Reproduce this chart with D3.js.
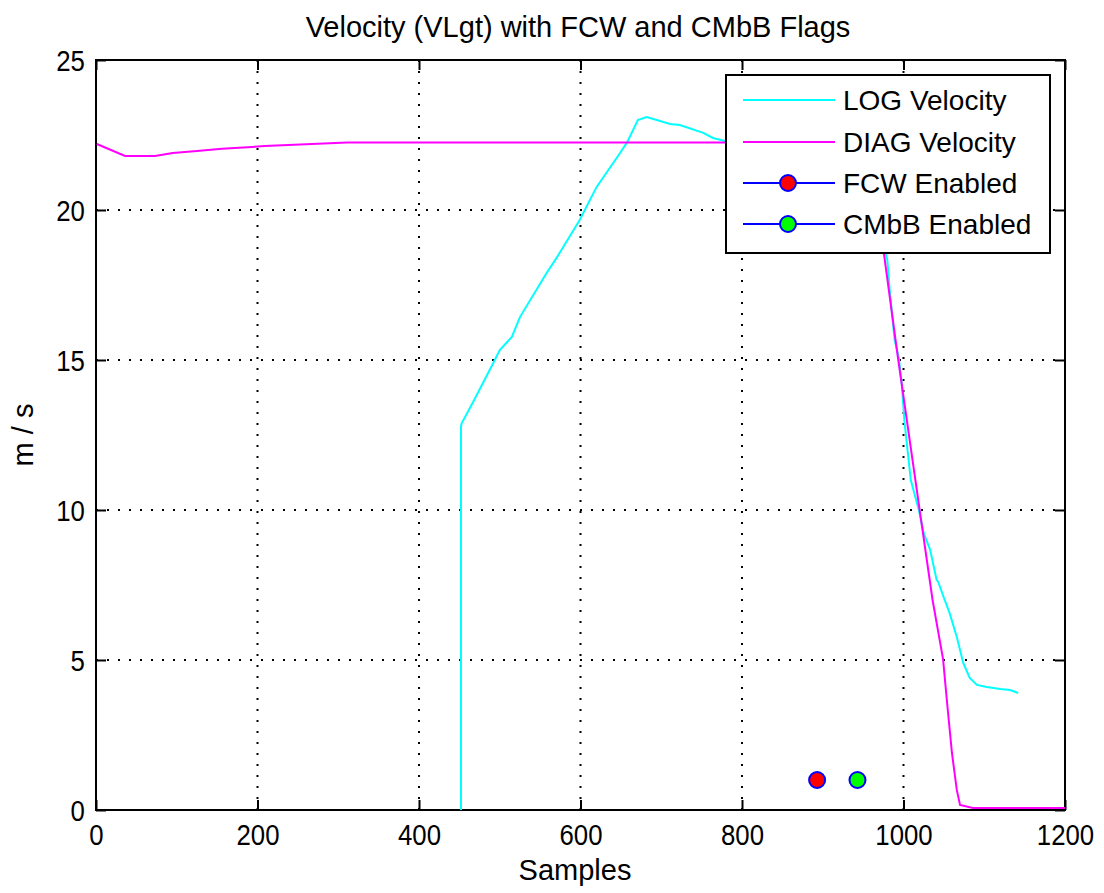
<!DOCTYPE html>
<html><head><meta charset="utf-8">
<script src="https://cdn.jsdelivr.net/npm/d3@7/dist/d3.min.js"></script>
<style>body{margin:0;background:#fff}svg{display:block}</style>
</head><body><svg id="c" width="1104" height="893"></svg>
<script>
// ---- data (samples, m/s) ----
const logSamples = [452,452,453,467,492,500,515,525,558,571,599,620,649,658,671,682,711,723,752,764,779,800,850,900,940,962,980,983,989,994,998,1001,1009,1019,1025,1033,1041,1043,1051,1057,1066,1074,1082,1091,1103,1120,1132,1142];
const logVelocity = [0,12.8,12.9,13.6,14.9,15.33,15.77,16.43,17.9,18.43,19.67,20.77,21.9,22.27,23.0,23.1,22.87,22.83,22.57,22.4,22.3,22.2,22.1,21.9,21.4,20.2,18.33,17.3,15.67,15.1,14.17,13.0,11.0,10.0,9.23,8.67,7.67,7.6,7.0,6.57,5.77,4.9,4.4,4.17,4.1,4.03,4.0,3.9];
const diagSamples = [1,36,73,95,125,156,209,311,955,976,993,1020,1036,1049,1054,1060,1066,1070,1086,1200];
const diagVelocity = [22.2,21.8,21.8,21.9,21.97,22.04,22.13,22.25,22.25,18.5,15.1,10.0,7.0,5.03,3.57,1.9,0.67,0.17,0.07,0.07];
const fcwPoint = [[893,1]];
const cmbbPoint = [[943,1]];
const xTicks = [0,200,400,600,800,1000,1200];
const yTicks = [0,5,10,15,20,25];
const legendLabels = ["LOG Velocity","DIAG Velocity","FCW Enabled","CMbB Enabled"];
const titleText = "Velocity (VLgt) with FCW and CMbB Flags";

const svg = d3.select("#c");
svg.append("rect").attr("width",1104).attr("height",893).attr("fill","#fff");
const L=96,R=1065,T=60,B=810;
const x = d3.scaleLinear().domain([0,1200]).range([L,R]);
const y = d3.scaleLinear().domain([0,25]).range([B,T]);
const font = "'Liberation Sans', Arial, sans-serif";

// grid
const g = svg.append("g");
xTicks.filter(d=>d>0&&d<1200).forEach(d=>{
  g.append("line").attr("x1",x(d)).attr("x2",x(d)).attr("y1",T).attr("y2",B)
   .attr("stroke","#000").attr("stroke-width",2).attr("stroke-dasharray","2,9");
});
yTicks.filter(d=>d>0&&d<25).forEach(d=>{
  g.append("line").attr("x1",L).attr("x2",R).attr("y1",y(d)).attr("y2",y(d))
   .attr("stroke","#000").attr("stroke-width",2).attr("stroke-dasharray","2,9");
});

// axes with inward ticks
const xAxis = svg.append("g").attr("transform",`translate(0,${B})`)
  .call(d3.axisBottom(x).tickValues(xTicks).tickSize(-10).tickFormat(d3.format("d")));
const xAxisTop = svg.append("g").attr("transform",`translate(0,${T})`)
  .call(d3.axisTop(x).tickValues(xTicks).tickSize(-10).tickFormat(""));
const yAxis = svg.append("g").attr("transform",`translate(${L},0)`)
  .call(d3.axisLeft(y).tickValues(yTicks).tickSize(-10).tickPadding(13).tickFormat(d3.format("d")));
const yAxisR = svg.append("g").attr("transform",`translate(${R},0)`)
  .call(d3.axisRight(y).tickValues(yTicks).tickSize(-10).tickFormat(""));
[xAxis,xAxisTop,yAxis,yAxisR].forEach(a=>{
  a.select(".domain").remove();
  a.selectAll("line").attr("stroke","#000").attr("stroke-width",2);
  a.selectAll("text").attr("font-family",font).attr("font-size",30).attr("fill","#000")
    .attr("transform","scale(0.86,1)");
});
xAxis.selectAll("text").attr("dy","0.71em").attr("y",14);
yAxis.selectAll("text").attr("dy","0.35em");
svg.append("rect").attr("x",L).attr("y",T).attr("width",R-L).attr("height",B-T)
  .attr("fill","none").attr("stroke","#000").attr("stroke-width",2);

// lines
const line = d3.line().x(d=>x(d[0])).y(d=>y(d[1]));
const logData = logSamples.map((s,i)=>[s,logVelocity[i]]);
const diagData = diagSamples.map((s,i)=>[s,diagVelocity[i]]);
svg.append("path").datum(logData).attr("d",line).attr("fill","none").attr("stroke","#00ffff").attr("stroke-width",2);
svg.append("path").datum(diagData).attr("d",line).attr("fill","none").attr("stroke","#ff00ff").attr("stroke-width",2);

// markers
function marker(sel, cx, cy, fill){
  sel.append("circle").attr("cx",cx).attr("cy",cy).attr("r",8)
    .attr("fill",fill).attr("stroke","#0000ff").attr("stroke-width",2);
}
fcwPoint.forEach(p=>marker(svg,x(p[0]),y(p[1]),"#ff0000"));
cmbbPoint.forEach(p=>marker(svg,x(p[0]),y(p[1]),"#00ff00"));

// legend
const lg = svg.append("g");
lg.append("rect").attr("x",726).attr("y",75).attr("width",324).attr("height",178)
  .attr("fill","#fff").attr("stroke","#000").attr("stroke-width",2);
const rowY = [100,142,183,224];
const lcolors = ["#00ffff","#ff00ff","#0000ff","#0000ff"];
legendLabels.forEach((t,i)=>{
  lg.append("line").attr("x1",743).attr("x2",835).attr("y1",rowY[i]).attr("y2",rowY[i])
    .attr("stroke",lcolors[i]).attr("stroke-width",2);
  if(i===2) marker(lg,788,rowY[i],"#ff0000");
  if(i===3) marker(lg,788,rowY[i],"#00ff00");
  lg.append("text").attr("x",843).attr("y",rowY[i]+10).text(t)
    .attr("font-family",font).attr("font-size",28).attr("fill","#000");
});

// titles
svg.append("text").attr("x",578).attr("y",37).attr("text-anchor","middle")
  .attr("font-family",font).attr("font-size",29).attr("fill","#000").text(titleText);
svg.append("text").attr("x",575).attr("y",880).attr("text-anchor","middle")
  .attr("font-family",font).attr("font-size",29).attr("fill","#000").text("Samples");
svg.append("text").attr("transform","translate(33,435) rotate(-90)").attr("text-anchor","middle")
  .attr("font-family",font).attr("font-size",29).attr("fill","#000").text("m / s");
</script></body></html>
